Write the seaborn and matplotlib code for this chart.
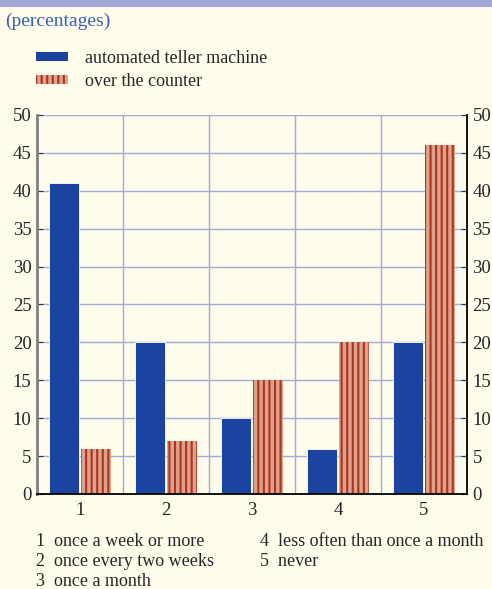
import numpy as np
import pandas as pd
import seaborn as sns
import matplotlib.pyplot as plt
from matplotlib.patches import Patch, Rectangle

categories = ["1", "2", "3", "4", "5"]
atm = [41, 20, 10, 6, 20]
counter = [6, 7, 15, 20, 46]
series = ["automated teller machine", "over the counter"]
notes_left = ["1  once a week or more", "2  once every two weeks", "3  once a month"]
notes_right = ["4  less often than once a month", "5  never"]

bg = "#FEFDEB"
blue = "#1A44A0"
salmon = "#D9A38C"
darkred = "#B3301F"
grid_col = "#A2A9DE"

df = pd.DataFrame({
    "cat": categories * 2,
    "value": atm + counter,
    "series": [series[0]] * 5 + [series[1]] * 5,
})

sns.set_style("white")
plt.rcParams["font.family"] = ["Liberation Serif", "DejaVu Serif"]
plt.rcParams["hatch.linewidth"] = 1.5

fig = plt.figure(figsize=(4.92, 5.89), dpi=100, facecolor=bg)
ax = fig.add_axes([0.0752, 0.1613, 0.874, 0.6435], facecolor=bg)

sns.barplot(data=df, x="cat", y="value", hue="series", palette=[blue, salmon],
            width=0.75, gap=0.06, ax=ax, legend=False, saturation=1,
            edgecolor="white", linewidth=0.6)

# stripes on the counter bars
for p in ax.patches[len(categories):]:
    p.set_hatch("|||")
    p.set_edgecolor(darkred)
    p.set_linewidth(0)

ax.set_xlim(-0.5, 4.5)
ax.set_ylim(0, 50)
ax.set_yticks(np.arange(0, 51, 5))
ax.set_xlabel("")
ax.set_ylabel("")

ax.set_axisbelow(True)
ax.yaxis.grid(True, color=grid_col, linewidth=1)
ax.set_xticks(np.arange(0.5, 4.5, 1), minor=True)
ax.xaxis.grid(True, which="minor", color=grid_col, linewidth=1)
ax.xaxis.grid(False, which="major")

ax.tick_params(axis="x", which="major", length=0, labelsize=13.5, pad=6)
ax.tick_params(axis="x", which="minor", length=5, width=1.2, direction="out", color="black")
ax.tick_params(axis="y", which="major", length=4, direction="in", labelsize=13.5,
               left=True, right=True, labelleft=True, labelright=True, pad=4, color="#333333")

ax.spines["top"].set_visible(False)
ax.spines["left"].set_color("#808080")
ax.spines["left"].set_linewidth(2)
ax.spines["right"].set_color("black")
ax.spines["right"].set_linewidth(1.3)
ax.spines["bottom"].set_color("black")
ax.spines["bottom"].set_linewidth(1.3)

# top band
fig.patches.append(Rectangle((0, 0.988), 1, 0.012, transform=fig.transFigure,
                             facecolor="#A3A8D8", edgecolor="none"))

fig.text(0.01, 0.964, "(percentages)", color="#3A5FB5", fontsize=14, va="center")

handles = [Patch(facecolor=blue, edgecolor=blue, linewidth=0),
           Patch(facecolor=salmon, edgecolor=darkred, hatch="|||", linewidth=0)]
fig.legend(handles, series, loc="upper left", bbox_to_anchor=(0.074, 0.915),
           frameon=False, fontsize=13, handlelength=1.75, handleheight=0.4,
           handletextpad=0.95, labelspacing=0.35, borderpad=0, borderaxespad=0)

for i, t in enumerate(notes_left):
    fig.text(0.074, 0.081 - i * 0.034, t, fontsize=13, va="center")
for i, t in enumerate(notes_right):
    fig.text(0.528, 0.081 - i * 0.034, t, fontsize=13, va="center")

fig.savefig("out.png", dpi=100, facecolor=bg)
